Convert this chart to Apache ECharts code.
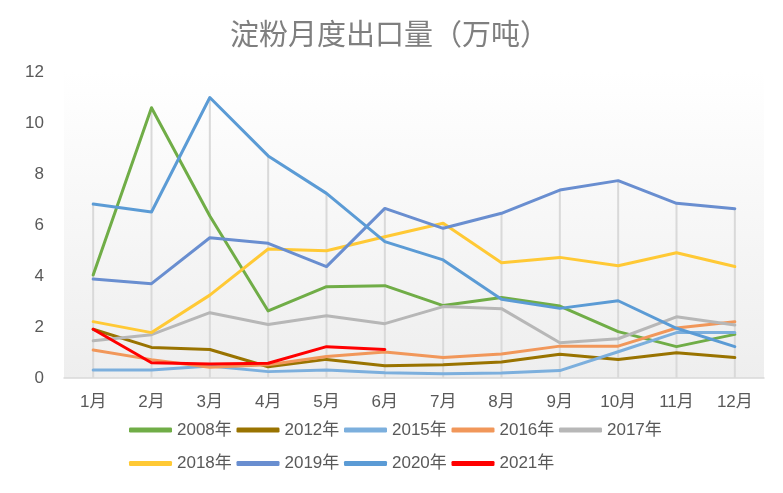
<!DOCTYPE html>
<html>
<head>
<meta charset="utf-8">
<script src="https://cdn.jsdelivr.net/npm/echarts@6/dist/echarts.min.js"></script>
<style>html,body{margin:0;padding:0;background:#fff}#c{width:783px;height:493px}</style>
</head>
<body>
<div id="c"></div>
<script>
const categories = ['1月','2月','3月','4月','5月','6月','7月','8月','9月','10月','11月','12月'];
const titleText = '淀粉月度出口量（万吨）';
const yTicks = {min: 0, max: 12, interval: 2};

const s2008 = [4.04, 10.6, 6.35, 2.63, 3.58, 3.62, 2.84, 3.16, 2.82, 1.82, 1.23, 1.71];
const s2012 = [1.91, 1.20, 1.12, 0.44, 0.73, 0.48, 0.52, 0.63, 0.93, 0.73, 0.99, 0.80];
const s2015 = [0.31, 0.31, 0.47, 0.25, 0.31, 0.21, 0.17, 0.20, 0.29, 1.03, 1.78, 1.78];
const s2016 = [1.10, 0.72, 0.42, 0.52, 0.84, 1.02, 0.80, 0.94, 1.25, 1.25, 1.96, 2.21];
const s2017 = [1.46, 1.70, 2.56, 2.10, 2.44, 2.13, 2.80, 2.72, 1.38, 1.54, 2.40, 2.08];
const s2018 = [2.21, 1.78, 3.25, 5.06, 4.99, 5.54, 6.07, 4.52, 4.73, 4.40, 4.91, 4.37];
const s2019 = [3.88, 3.70, 5.50, 5.28, 4.37, 6.65, 5.87, 6.46, 7.37, 7.74, 6.85, 6.64];
const s2020 = [6.82, 6.51, 11.0, 8.71, 7.24, 5.35, 4.63, 3.09, 2.73, 3.03, 1.95, 1.23];
const s2021 = [1.91, 0.60, 0.55, 0.58, 1.23, 1.12];

const seriesNames = ['2008年','2012年','2015年','2016年','2017年','2018年','2019年','2020年','2021年'];
const seriesData = [s2008, s2012, s2015, s2016, s2017, s2018, s2019, s2020, s2021];
const colors = ['#70ad47','#997300','#7cafdd','#f1975a','#b7b7b7','#ffc935','#698ed0','#5b9bd5','#ff0000'];

// drop lines: from the highest value in each category down to the axis
const dropMax = categories.map((c, i) => Math.max(...seriesData.map(s => (s[i] == null ? -Infinity : s[i]))));

const chart = echarts.init(document.getElementById('c'), null, {renderer: 'canvas'});
const font = "'Liberation Sans', 'Noto Sans CJK SC', sans-serif";

const series = [{
  name: 'drop',
  type: 'bar',
  data: dropMax,
  barWidth: 2,
  silent: true,
  z: 1,
  itemStyle: {color: '#d9d9d9'}
}];
seriesNames.forEach((n, i) => {
  series.push({
    name: n,
    type: 'line',
    data: seriesData[i],
    symbol: 'none',
    z: 2 + i,
    color: colors[i],
    lineStyle: {width: 3, color: colors[i], cap: 'round', join: 'round'}
  });
});

chart.setOption({
  animation: false,
  backgroundColor: '#ffffff',
  title: {
    text: titleText,
    left: 230,
    top: 19,
    padding: 0,
    textStyle: {fontFamily: "'Noto Sans CJK SC', sans-serif", fontSize: 29, fontWeight: 'normal', color: '#7f7f7f'}
  },
  grid: {
    left: 64, right: 19, top: 72, bottom: 115,
    show: true,
    borderWidth: 0,
    backgroundColor: new echarts.graphic.LinearGradient(0, 0, 0, 1, [
      {offset: 0, color: '#ffffff'},
      {offset: 1, color: '#eeeeee'}
    ])
  },
  legend: {
    data: seriesNames,
    left: 129,
    top: 415,
    padding: 0,
    width: 560,
    itemWidth: 43,
    itemHeight: 5,
    itemGap: 3.5,
    icon: 'roundRect',
    textStyle: {fontFamily: font, fontSize: 17, color: '#595959', width: 56, lineHeight: 30}
  },
  xAxis: {
    type: 'category',
    data: categories,
    boundaryGap: true,
    axisLine: {show: true, lineStyle: {color: '#d9d9d9', width: 1.5}},
    axisTick: {show: false},
    splitLine: {show: false},
    axisLabel: {fontFamily: font, fontSize: 17, color: '#595959', margin: 16}
  },
  yAxis: {
    type: 'value',
    min: yTicks.min, max: yTicks.max, interval: yTicks.interval,
    axisLine: {show: false},
    axisTick: {show: false},
    splitLine: {show: false},
    axisLabel: {fontFamily: font, fontSize: 17, color: '#595959', margin: 20}
  },
  series: series
});
</script>
</body>
</html>
